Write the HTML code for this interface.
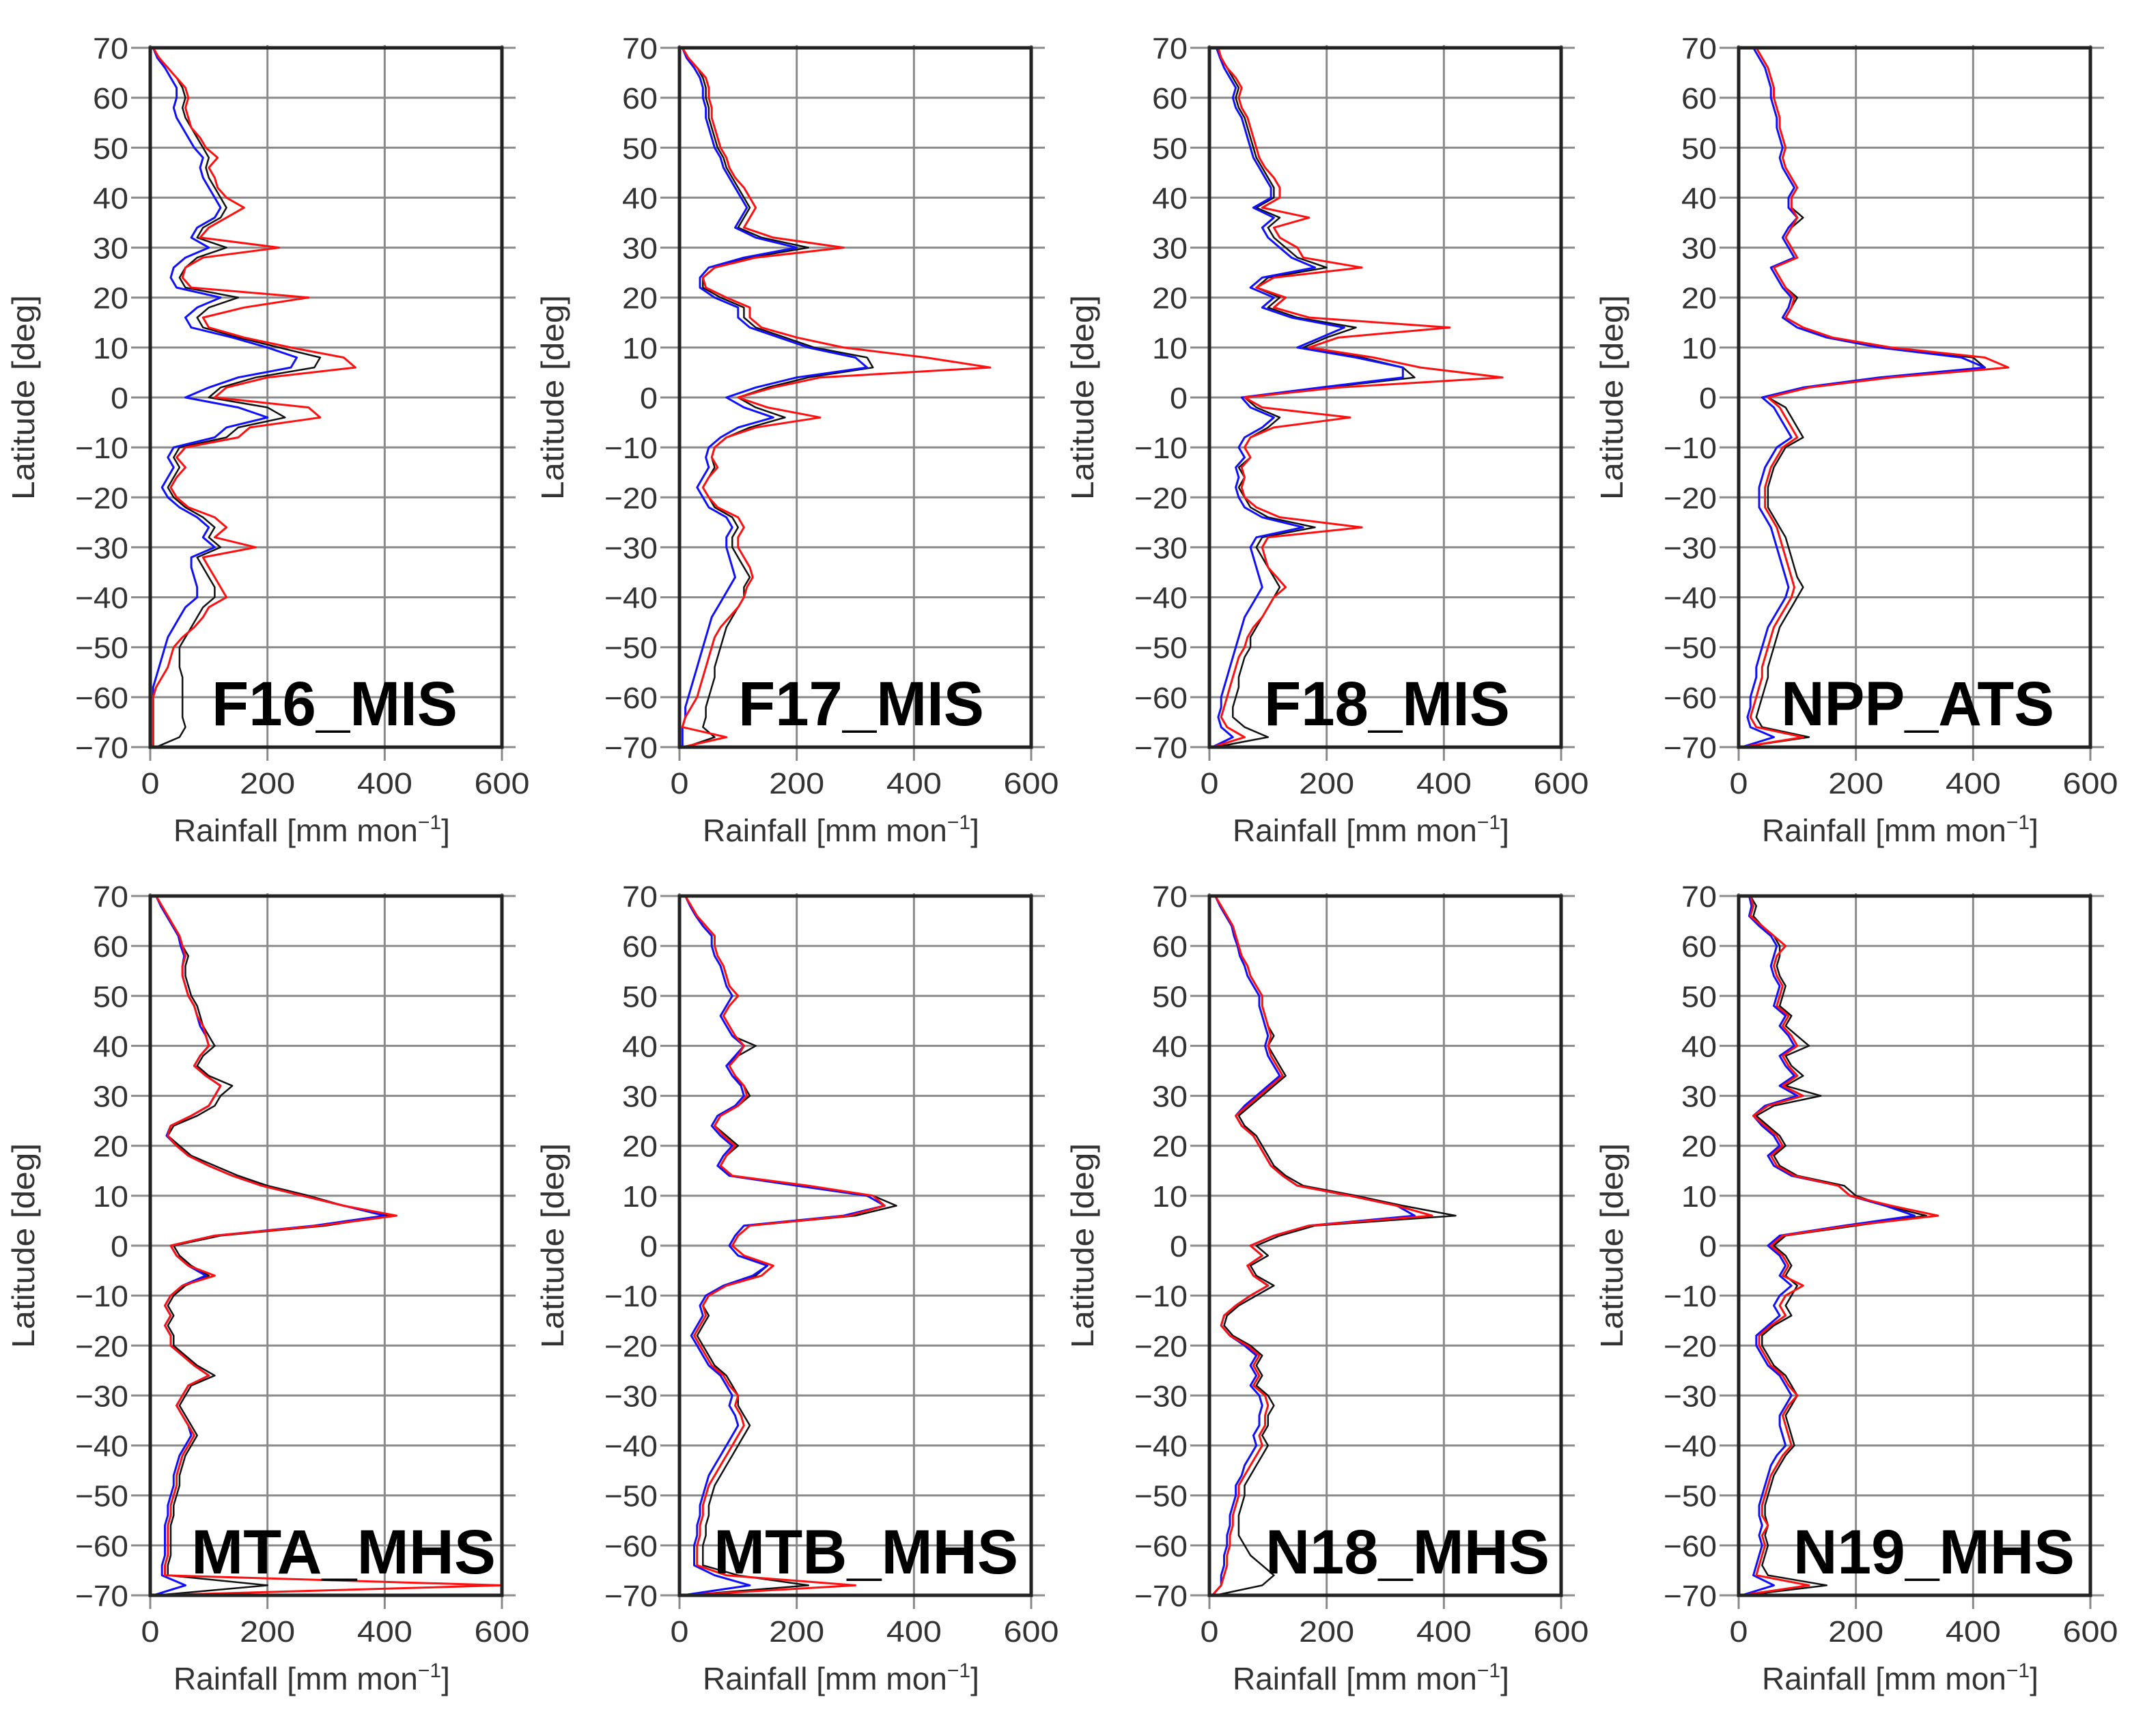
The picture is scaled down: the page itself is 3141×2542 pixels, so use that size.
<!DOCTYPE html>
<html><head><meta charset="utf-8"><style>
html,body{margin:0;padding:0;background:#fff}
svg{display:block}
text{font-family:"Liberation Sans",sans-serif}
</style></head><body>
<svg id="fig" width="3141" height="2542" viewBox="0 0 3141 2542" xmlns="http://www.w3.org/2000/svg"></svg>
<script>
const lats = [];
for (let l = 70; l >= -70; l -= 2) lats.push(l);
const panelNames = ["F16_MIS","F17_MIS","F18_MIS","NPP_ATS","MTA_MHS","MTB_MHS","N18_MHS","N19_MHS"];
const xTicks = [0,200,400,600];
const yTicks = [70,60,50,40,30,20,10,0,-10,-20,-30,-40,-50,-60,-70];

const f16Black=[5,15,30,45,55,60,55,60,70,80,90,100,95,100,110,120,130,120,90,80,130,80,60,50,60,150,100,80,90,150,220,290,280,180,120,100,200,230,150,130,50,40,50,40,30,40,60,90,110,100,120,80,90,100,110,110,90,80,70,60,50,50,50,55,55,55,55,55,60,50,10];
const f16Red=[5,15,30,45,60,65,60,65,70,85,95,115,100,110,115,130,160,130,100,85,220,90,60,55,70,270,160,90,100,160,240,330,350,200,130,110,270,290,170,150,60,45,60,45,35,45,65,110,130,110,180,90,100,110,120,130,100,90,75,55,40,35,30,20,10,5,5,5,5,5,5];
const f16Blue=[5,12,25,35,45,45,40,45,55,65,75,90,85,90,100,110,120,110,80,70,100,60,40,35,45,120,80,60,70,140,200,250,240,150,100,60,150,200,130,110,40,30,40,30,20,30,50,80,100,90,110,70,70,75,80,80,60,50,40,30,25,20,15,10,5,5,5,5,5,5,5];

const f17Black=[5,15,30,40,45,45,50,50,55,60,65,75,80,90,100,110,120,110,100,140,220,120,60,40,40,70,110,110,130,180,230,320,330,220,150,100,130,180,120,80,60,55,60,50,40,50,60,90,100,90,90,100,110,120,110,110,100,90,80,75,70,65,60,60,55,50,45,45,40,60,10];
const f17Red=[5,15,30,45,50,50,55,55,60,65,70,80,85,95,110,120,130,120,110,160,280,130,60,40,45,80,120,120,140,200,280,420,530,240,160,100,150,240,130,80,60,55,65,50,40,50,65,100,110,100,100,110,120,125,115,110,100,85,70,60,55,50,45,40,35,30,20,10,5,80,5];
const f17Blue=[5,12,25,35,40,40,45,45,50,55,60,70,75,85,95,105,115,105,95,130,200,110,50,35,35,60,100,100,120,170,220,300,320,200,130,80,110,160,100,70,50,45,50,40,30,40,50,80,90,80,80,85,90,95,85,75,65,55,50,45,40,35,30,25,20,15,10,10,5,5,5];

const f18Black=[15,20,30,40,50,45,50,60,65,70,75,80,90,100,110,110,80,120,100,110,130,150,200,100,80,120,100,150,250,200,160,260,330,350,200,60,80,120,100,70,60,70,50,60,50,60,70,100,180,90,80,90,100,110,120,110,100,90,80,70,70,60,55,50,50,45,40,40,60,100,10];
const f18Red=[15,20,30,45,55,50,55,65,70,75,80,85,95,110,120,120,90,170,110,120,150,160,260,110,80,130,110,170,410,220,170,280,360,500,220,60,90,240,110,70,60,70,55,60,55,60,80,120,260,100,90,95,100,115,130,110,100,90,75,65,60,50,45,40,35,30,25,20,30,60,5];
const f18Blue=[12,18,25,35,45,40,45,55,60,65,70,75,85,95,105,105,75,110,90,100,120,140,180,90,70,110,90,140,230,190,150,250,330,330,190,55,70,110,90,60,50,60,45,50,45,50,60,90,160,80,70,75,80,85,90,80,70,60,55,50,45,40,35,30,25,20,20,15,20,40,5];

const nppBlack=[30,40,50,55,60,60,65,70,70,75,80,75,80,90,100,90,90,110,90,80,90,100,60,70,80,100,90,80,110,160,250,400,420,250,120,50,80,90,100,110,80,70,60,55,50,50,50,60,70,80,85,90,95,100,110,100,90,80,70,65,60,55,50,50,45,40,35,30,40,120,5];
const nppRed=[30,40,50,55,60,60,65,70,70,75,80,75,80,90,100,90,90,100,90,80,90,100,60,70,80,95,90,80,110,160,260,420,460,260,120,50,70,80,90,100,75,65,55,50,45,45,45,55,65,70,75,80,85,90,95,90,80,70,60,55,50,45,40,40,35,30,25,20,30,110,5];
const nppBlue=[25,35,45,50,55,55,60,65,65,70,75,70,75,85,95,85,85,100,85,75,85,95,55,65,75,90,85,75,100,150,240,380,420,240,110,40,60,70,80,90,65,55,45,40,35,35,35,45,55,60,65,70,75,80,85,80,70,60,50,45,40,35,30,30,25,20,20,15,20,60,5];

const mtaBlack=[10,20,30,40,50,55,65,60,60,65,70,80,85,90,100,110,90,80,100,140,120,110,80,40,30,50,70,110,150,200,270,330,410,300,120,40,50,70,100,60,40,30,40,30,40,40,60,80,110,70,60,50,60,70,80,70,60,55,50,50,45,40,40,35,35,35,35,30,30,200,10];
const mtaRed=[10,20,30,40,50,55,60,55,55,60,65,75,80,90,95,100,85,75,95,120,110,100,70,35,30,45,65,100,140,190,260,330,420,290,110,35,45,65,110,55,35,25,35,25,35,35,55,75,100,65,55,45,55,65,75,65,55,50,45,45,40,35,35,30,30,30,30,25,25,600,5];
const mtaBlue=[10,18,28,38,48,52,58,55,55,60,65,75,80,85,95,100,85,75,95,120,110,100,70,35,28,45,65,100,140,190,260,330,400,280,110,35,45,65,95,55,35,25,35,25,35,35,55,75,100,65,55,45,55,65,70,60,50,45,40,40,35,30,30,25,25,25,25,20,20,60,5];

const mtbBlack=[10,20,30,40,55,55,60,70,75,80,90,80,70,80,90,130,100,80,90,110,120,100,70,60,80,100,80,70,90,200,330,370,300,120,100,90,110,150,130,80,50,40,50,40,30,40,50,60,80,90,100,100,110,120,110,100,90,80,70,60,55,50,50,45,45,40,40,40,100,220,10];
const mtbRed=[10,20,30,45,60,60,65,75,80,85,100,85,75,85,95,110,100,85,95,110,115,100,70,60,75,95,80,70,90,220,330,350,290,120,100,90,110,160,140,80,50,40,45,35,25,35,45,55,75,85,100,95,105,110,100,90,80,70,60,50,45,40,40,35,35,30,30,30,80,300,5];
const mtbBlue=[10,18,28,40,55,55,60,70,75,80,90,80,70,80,90,110,95,80,90,105,110,95,65,55,70,90,75,65,85,200,320,350,280,110,95,85,100,150,125,75,45,35,40,30,20,30,40,50,70,80,90,85,95,100,90,80,70,60,50,45,40,35,35,30,30,25,25,25,60,120,5];

const n18Black=[10,20,30,40,45,50,55,65,70,80,90,90,95,100,110,100,110,120,130,110,90,70,50,60,80,90,100,110,130,160,250,330,420,180,120,80,100,70,80,110,80,50,30,25,40,70,90,80,90,80,100,110,100,100,90,100,90,80,70,60,60,55,50,50,50,60,70,90,110,90,10];
const n18Red=[10,20,30,40,45,50,55,65,70,80,90,90,95,100,105,100,105,115,125,105,85,65,45,55,75,85,95,105,125,150,240,320,380,170,110,70,90,65,75,100,70,45,25,20,35,65,85,75,85,75,95,100,95,95,85,90,80,70,60,50,50,45,40,40,35,35,30,30,25,20,5];
const n18Blue=[10,18,28,38,42,48,52,60,65,75,85,85,90,95,100,95,100,110,120,100,80,60,45,55,75,85,95,105,125,150,240,320,350,170,110,70,90,65,75,100,70,45,25,20,35,60,80,70,80,70,85,90,85,85,75,80,70,60,55,45,45,40,35,35,30,30,25,25,20,20,5];

const n19Black=[20,30,25,40,60,70,70,65,70,80,75,70,90,80,100,120,80,90,110,80,140,60,30,50,70,80,60,70,100,180,200,250,320,200,80,60,80,90,80,100,90,80,90,60,40,40,50,60,80,90,100,90,80,85,90,95,80,70,60,55,50,45,45,50,45,50,45,40,50,150,10];
const n19Red=[20,25,20,40,60,80,65,60,65,75,70,65,85,75,90,100,75,85,100,75,110,50,25,45,65,75,55,65,95,170,190,260,340,190,75,55,75,85,75,110,80,70,80,55,35,35,45,55,75,85,100,85,75,80,85,90,75,65,55,50,45,40,40,50,40,45,40,35,30,120,5];
const n19Blue=[18,22,18,35,55,65,60,55,60,70,65,60,80,70,85,95,70,80,95,70,100,45,25,40,60,70,50,60,90,170,190,250,300,180,70,50,70,80,70,90,70,60,70,50,30,30,40,50,70,80,90,80,70,70,75,80,65,55,50,45,40,35,35,40,35,40,35,30,25,60,5];

const blackSeries=[f16Black,f17Black,f18Black,nppBlack,mtaBlack,mtbBlack,n18Black,n19Black];
const redSeries=[f16Red,f17Red,f18Red,nppRed,mtaRed,mtbRed,n18Red,n19Red];
const blueSeries=[f16Blue,f17Blue,f18Blue,nppBlue,mtaBlue,mtbBlue,n18Blue,n19Blue];

const NS="http://www.w3.org/2000/svg";
const svg=document.getElementById('fig');
const lefts=[220,995,1771,2546], tops=[70,1312], W=515, H=1024;
const labelOff=[90,86,80,62,60,50,82,80], labelLen=[360,360,360,400,446,446,416,412];
function mk(tag,attrs,parent){const e=document.createElementNS(NS,tag);for(const k in attrs)e.setAttribute(k,attrs[k]);parent.appendChild(e);return e;}

for(let p=0;p<8;p++){
  const L=lefts[p%4], T=tops[Math.floor(p/4)];
  const xs=v=>L+Math.min(v,600)/600*W;
  const ys=l=>T+(70-l)/140*H;
  const g=mk('g',{},svg);
  
  
  yTicks.forEach(t=>{
    const ln=mk('line',{x1:L-28,x2:L+W+20,y1:ys(t),y2:ys(t),stroke:'#8a8a8a','stroke-width':3},g);
    
    
    const lab=(t<0?'\u2212':'')+Math.abs(t);
    const tx=mk('text',{x:L-32,y:ys(t)+16,'font-size':44,'text-anchor':'end',fill:'#333',textLength:(lab.length*26),lengthAdjust:'spacingAndGlyphs'},g);
    tx.textContent=lab;
    
    
  });
  xTicks.forEach(t=>{
    const ln=mk('line',{x1:xs(t),x2:xs(t),y1:T-4,y2:T+H+20,stroke:'#8a8a8a','stroke-width':3},g);
    
    
    const s=String(t);
    const tx=mk('text',{x:xs(t),y:T+H+68,'font-size':44,'text-anchor':'middle',fill:'#333',textLength:(s.length*27),lengthAdjust:'spacingAndGlyphs'},g);
    tx.textContent=s;
    
    
  });
  [[blackSeries,'#111',2.5,'black'],[blueSeries,'#1010ff',3,'blue'],[redSeries,'#ff1010',3,'red']].forEach(([arr,col,sw,nm])=>{
    const d=arr[p].map((v,k)=>(k?'L':'M')+xs(v).toFixed(1)+','+ys(lats[k]).toFixed(1)).join(' ');
    const pa=mk('path',{d:d,fill:'none',stroke:col,'stroke-width':sw,'stroke-linejoin':'round'},g);
    
    
  });
  const fr=mk('rect',{x:L,y:T,width:W,height:H,fill:'none',stroke:'#222','stroke-width':5},g);
  
  
  const yt=mk('text',{x:0,y:0,'font-size':46,'text-anchor':'middle',fill:'#333',textLength:300,lengthAdjust:'spacingAndGlyphs',transform:`translate(${L-170},${T+H/2}) rotate(-90)`},g);
  yt.textContent='Latitude [deg]';
  
  
  const xt=mk('text',{x:L+34,y:T+H+138,'font-size':46,fill:'#333'},g);
  xt.innerHTML='Rainfall [mm mon<tspan dy="-18" font-size="30">\u22121</tspan><tspan dy="18">]</tspan>';
  
  
  const lb=mk('text',{x:L+labelOff[p],y:T+H-32,'font-size':92,'font-weight':'bold',fill:'#000',textLength:labelLen[p],lengthAdjust:'spacingAndGlyphs'},g);
  lb.textContent=panelNames[p];
  
  
}
</script>
</body></html>
